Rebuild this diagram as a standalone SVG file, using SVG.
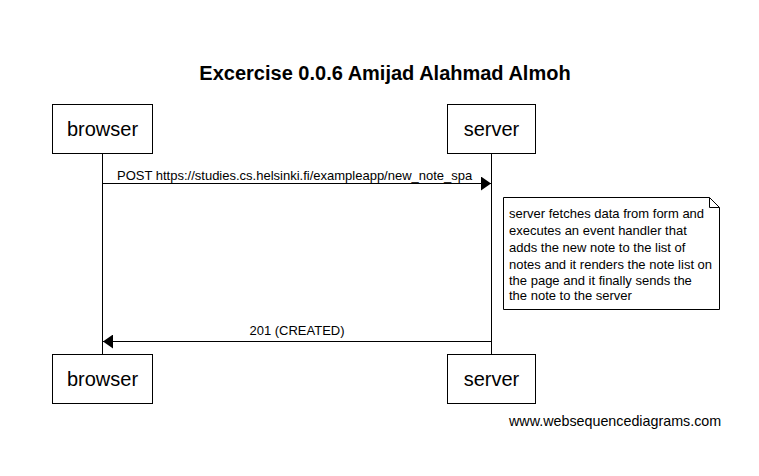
<svg xmlns="http://www.w3.org/2000/svg" width="759" height="476" viewBox="0 0 759 476">
<defs>
<style>
text{font-family:"Liberation Sans",Arial,sans-serif;fill:#000}
.box{fill:#fff;stroke:#000;stroke-width:1}
.life{stroke:#000;stroke-width:1}
.msg{stroke:#000;stroke-width:1;fill:none}
.pl{font-size:20px;text-anchor:middle}
.ml{font-size:13px}
.nl{font-size:13px}
</style>
<marker id="ah" markerWidth="10" markerHeight="14" refX="10" refY="7" orient="auto" markerUnits="userSpaceOnUse">
<path d="M0,0 L10,7 L0,14 Z" fill="#000"/>
</marker>
</defs>
<rect width="759" height="476" fill="#fff"/>
<text x="385" y="80" font-size="20" font-weight="bold" text-anchor="middle">Excercise 0.0.6 Amijad Alahmad Almoh</text>
<g id="lifelines">
<line class="life" x1="102.5" y1="154" x2="102.5" y2="354"/>
<line class="life" x1="491.5" y1="154" x2="491.5" y2="354"/>
</g>
<g id="browser-top"><rect class="box" x="52.5" y="104.5" width="100" height="49"/><text class="pl" x="102.5" y="136">browser</text></g>
<g id="server-top"><rect class="box" x="447.5" y="104.5" width="88" height="49"/><text class="pl" x="491.5" y="136">server</text></g>
<g id="browser-bottom"><rect class="box" x="52.5" y="354.5" width="100" height="49"/><text class="pl" x="102.5" y="386">browser</text></g>
<g id="server-bottom"><rect class="box" x="447.5" y="354.5" width="88" height="49"/><text class="pl" x="491.5" y="386">server</text></g>
<g id="connectors">
<line class="msg" x1="102.5" y1="183.5" x2="491" y2="183.5" marker-end="url(#ah)"/>
<text class="ml" x="117" y="180">POST https://studies.cs.helsinki.fi/exampleapp/new_note_spa</text>
<line class="msg" x1="491.5" y1="341.5" x2="103" y2="341.5" marker-end="url(#ah)"/>
<text class="ml" x="297" y="335" text-anchor="middle">201 (CREATED)</text>
</g>
<g id="note">
<path class="box" d="M503.5,197.5 H709.5 L719.5,207.5 V309.5 H503.5 Z"/>
<path d="M709.5,197.5 V207.5 H719.5" fill="none" stroke="#000"/>
<text class="nl" x="509" y="218">server fetches data from form and</text>
<text class="nl" x="509" y="235">executes an event handler that</text>
<text class="nl" x="509" y="252">adds the new note to the list of</text>
<text class="nl" x="509" y="269">notes and it renders the note list on</text>
<text class="nl" x="509" y="285">the page and it finally sends the</text>
<text class="nl" x="509" y="300">the note to the server</text>
</g>
<text x="509" y="426" font-size="14.3">www.websequencediagrams.com</text>
</svg>
